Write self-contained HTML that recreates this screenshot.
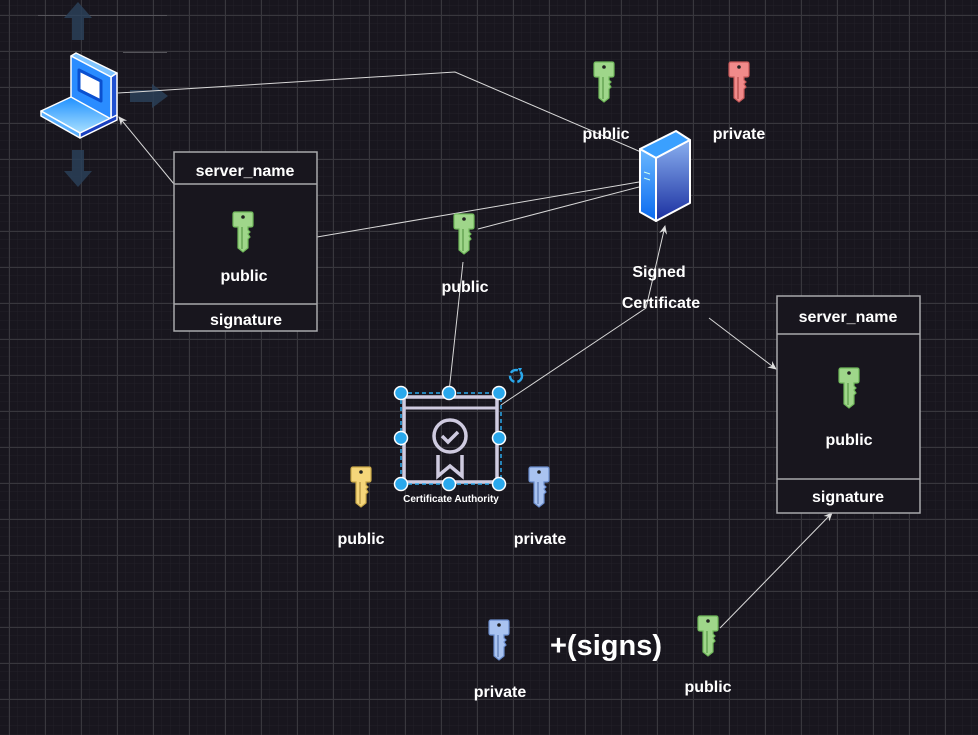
<!DOCTYPE html>
<html><head><meta charset="utf-8"><style>
html,body{margin:0;padding:0;background:#18161e;}
svg{display:block}
text{font-family:"Comic Sans MS","Liberation Sans",sans-serif;fill:#fff;font-weight:bold;}
</style></head><body>
<svg width="978" height="735" viewBox="0 0 978 735" xmlns="http://www.w3.org/2000/svg">
<defs>
<pattern id="minor" x="0" y="6" width="9" height="9" patternUnits="userSpaceOnUse">
<path d="M9 0V9M0 9H9" stroke="#222028" stroke-width="1" fill="none"/>
</pattern>
<pattern id="major" x="9" y="15" width="36" height="36" patternUnits="userSpaceOnUse">
<path d="M0.5 0V36M0 0.5H36" stroke="#38373d" stroke-width="1" fill="none"/>
</pattern>
<marker id="ar" markerWidth="10" markerHeight="10" refX="8" refY="5" orient="auto" markerUnits="userSpaceOnUse">
<path d="M0 1 L9 5 L0 9 L3 5Z" fill="#ddd"/>
</marker>
<linearGradient id="lb" x1="0" y1="0" x2="0" y2="1"><stop offset="0" stop-color="#1e90ff"/><stop offset="1" stop-color="#a9e0ff"/></linearGradient>
<linearGradient id="sv" x1="0" y1="0" x2="0" y2="1"><stop offset="0" stop-color="#8ab0f0"/><stop offset="1" stop-color="#1a2fa0"/></linearGradient>
<linearGradient id="sf" x1="0" y1="0" x2="0" y2="1"><stop offset="0" stop-color="#6ab8ff"/><stop offset="1" stop-color="#0a6af0"/></linearGradient>
</defs>
<rect width="978" height="735" fill="#18161e"/>
<rect width="978" height="735" fill="url(#minor)"/>
<rect width="978" height="735" fill="url(#major)"/>
<line x1="38" y1="15.5" x2="167" y2="15.5" stroke="#55545a"/>
<line x1="123" y1="52.5" x2="167" y2="52.5" stroke="#55545a"/>

<g fill="#2a4058" opacity="0.85">
<path d="M78 2 L92 18 L84 18 L84 40 L72 40 L72 18 L64 18Z"/>
<path d="M168 96 L152 84 L152 90 L130 90 L130 102 L152 102 L152 108Z"/>
<path d="M78 187 L92 171 L84 171 L84 150 L72 150 L72 171 L64 171Z"/>
</g>

<g stroke="#d8d8d8" stroke-width="1" fill="none">
<polyline points="118,93 455,72 648,155" marker-end="url(#ar)"/>
<line x1="174" y1="184" x2="119" y2="117" marker-end="url(#ar)"/>
<line x1="317" y1="237" x2="639" y2="182"/>
<line x1="478" y1="229" x2="639" y2="187"/>
<line x1="449" y1="392" x2="463" y2="262"/>
<polyline points="501,405 646,308 665,226" marker-end="url(#ar)"/>
<line x1="709" y1="318" x2="776" y2="369" marker-end="url(#ar)"/>
<line x1="720" y1="628" x2="832" y2="513" marker-end="url(#ar)"/>
</g>

<g fill="#18161e" stroke="#a8a8ac" stroke-width="1.5">
<rect x="174" y="152" width="143" height="179"/>
<line x1="174" y1="184" x2="317" y2="184"/>
<line x1="174" y1="304" x2="317" y2="304"/>
<rect x="777" y="296" width="143" height="217"/>
<line x1="777" y1="334" x2="920" y2="334"/>
<line x1="777" y1="479" x2="920" y2="479"/>
</g>

<g stroke="#fff" stroke-width="1.5" stroke-linejoin="round">
<polygon points="71,56 76,53 117,73 111,77" fill="#7fc4ff"/>
<polygon points="111,77 117,73 117,116 111,119" fill="#2050d0"/>
<polygon points="71,56 111,77 111,119 71,98" fill="#2a8cff"/>
<polygon points="79,70 101,81 101,101 79,90" fill="#fff" stroke="#0a50d0" stroke-width="3"/>
<polygon points="41,111 71,97 111,119 80,133" fill="url(#lb)"/>
<polygon points="41,111 80,133 80,138 41,116" fill="#5ab0ff"/>
<polygon points="80,133 117,115 117,120 80,138" fill="#1a40c0"/>
</g>

<g stroke="#fff" stroke-width="2" stroke-linejoin="round">
<polygon points="640,149 676,131 690,140 656,158" fill="#3aa0ff"/>
<polygon points="640,149 656,158 656,221 640,212" fill="url(#sf)"/>
<polygon points="656,158 690,140 690,203 656,221" fill="url(#sv)"/>
</g>
<path d="M644 172 l6 2 M644 178 l6 2" stroke="#cfe" stroke-width="1"/>

<g stroke-width="1.2">
<g transform="translate(243,212)"><path d="M-8 0 H8 Q10 0 10 2 V13 Q10 15 8 15 H5 V18 L7 20 L5 22 L7 25 L5 27 V36 L0 40 L-5 36 V15 H-8 Q-10 15 -10 13 V2 Q-10 0 -8 0Z" fill="#9fd68a" stroke="#6fb85a"/><circle cx="0" cy="5" r="1.8" fill="#222"/><line x1="-1" y1="15" x2="-1" y2="37" stroke="#5a9a48"/></g>
<g transform="translate(604,62)"><path d="M-8 0 H8 Q10 0 10 2 V13 Q10 15 8 15 H5 V18 L7 20 L5 22 L7 25 L5 27 V36 L0 40 L-5 36 V15 H-8 Q-10 15 -10 13 V2 Q-10 0 -8 0Z" fill="#9fd68a" stroke="#6fb85a"/><circle cx="0" cy="5" r="1.8" fill="#222"/><line x1="-1" y1="15" x2="-1" y2="37" stroke="#5a9a48"/></g>
<g transform="translate(739,62)"><path d="M-8 0 H8 Q10 0 10 2 V13 Q10 15 8 15 H5 V18 L7 20 L5 22 L7 25 L5 27 V36 L0 40 L-5 36 V15 H-8 Q-10 15 -10 13 V2 Q-10 0 -8 0Z" fill="#f08a8a" stroke="#c85a5a"/><circle cx="0" cy="5" r="1.8" fill="#222"/><line x1="-1" y1="15" x2="-1" y2="37" stroke="#b04848"/></g>
<g transform="translate(464,214)"><path d="M-8 0 H8 Q10 0 10 2 V13 Q10 15 8 15 H5 V18 L7 20 L5 22 L7 25 L5 27 V36 L0 40 L-5 36 V15 H-8 Q-10 15 -10 13 V2 Q-10 0 -8 0Z" fill="#9fd68a" stroke="#6fb85a"/><circle cx="0" cy="5" r="1.8" fill="#222"/><line x1="-1" y1="15" x2="-1" y2="37" stroke="#5a9a48"/></g>
<g transform="translate(849,368)"><path d="M-8 0 H8 Q10 0 10 2 V13 Q10 15 8 15 H5 V18 L7 20 L5 22 L7 25 L5 27 V36 L0 40 L-5 36 V15 H-8 Q-10 15 -10 13 V2 Q-10 0 -8 0Z" fill="#9fd68a" stroke="#6fb85a"/><circle cx="0" cy="5" r="1.8" fill="#222"/><line x1="-1" y1="15" x2="-1" y2="37" stroke="#5a9a48"/></g>
<g transform="translate(361,467)"><path d="M-8 0 H8 Q10 0 10 2 V13 Q10 15 8 15 H5 V18 L7 20 L5 22 L7 25 L5 27 V36 L0 40 L-5 36 V15 H-8 Q-10 15 -10 13 V2 Q-10 0 -8 0Z" fill="#f5d67a" stroke="#c9a848"/><circle cx="0" cy="5" r="1.8" fill="#222"/><line x1="-1" y1="15" x2="-1" y2="37" stroke="#b09040"/></g>
<g transform="translate(539,467)"><path d="M-8 0 H8 Q10 0 10 2 V13 Q10 15 8 15 H5 V18 L7 20 L5 22 L7 25 L5 27 V36 L0 40 L-5 36 V15 H-8 Q-10 15 -10 13 V2 Q-10 0 -8 0Z" fill="#a9c3f0" stroke="#6a8ccc"/><circle cx="0" cy="5" r="1.8" fill="#222"/><line x1="-1" y1="15" x2="-1" y2="37" stroke="#5a78b0"/></g>
<g transform="translate(499,620)"><path d="M-8 0 H8 Q10 0 10 2 V13 Q10 15 8 15 H5 V18 L7 20 L5 22 L7 25 L5 27 V36 L0 40 L-5 36 V15 H-8 Q-10 15 -10 13 V2 Q-10 0 -8 0Z" fill="#a9c3f0" stroke="#6a8ccc"/><circle cx="0" cy="5" r="1.8" fill="#222"/><line x1="-1" y1="15" x2="-1" y2="37" stroke="#5a78b0"/></g>
<g transform="translate(708,616)"><path d="M-8 0 H8 Q10 0 10 2 V13 Q10 15 8 15 H5 V18 L7 20 L5 22 L7 25 L5 27 V36 L0 40 L-5 36 V15 H-8 Q-10 15 -10 13 V2 Q-10 0 -8 0Z" fill="#9fd68a" stroke="#6fb85a"/><circle cx="0" cy="5" r="1.8" fill="#222"/><line x1="-1" y1="15" x2="-1" y2="37" stroke="#5a9a48"/></g>
</g>

<g fill="none" stroke="#cfcbe0" stroke-width="4">
<rect x="404" y="397" width="93" height="85" stroke-width="3.5"/>
<line x1="404" y1="408" x2="497" y2="408" stroke-width="3"/>
<circle cx="450" cy="436" r="16" stroke-width="3.5"/>
<path d="M442 436 l6 6 l10 -10" stroke-width="3.5"/>
<path d="M438 455 V476 L450 466 L462 476 V455" stroke-width="3.5"/>
</g>
<rect x="401" y="393" width="100" height="91" fill="none" stroke="#2aa8ec" stroke-width="1.5" stroke-dasharray="4 3"/>
<g fill="#2aa8ec" stroke="#fff" stroke-width="1.5">
<circle cx="401" cy="393" r="6.5"/><circle cx="449" cy="393" r="6.5"/><circle cx="499" cy="393" r="6.5"/>
<circle cx="401" cy="438" r="6.5"/><circle cx="499" cy="438" r="6.5"/>
<circle cx="401" cy="484" r="6.5"/><circle cx="449" cy="484" r="6.5"/><circle cx="499" cy="484" r="6.5"/>
</g>
<circle cx="516" cy="376" r="6" fill="none" stroke="#2aa8ec" stroke-width="2.5" stroke-dasharray="8 3"/>
<path d="M518 368 l4 0 l-2 4z" fill="#2aa8ec"/>

<g font-size="16" text-anchor="middle">
<text x="245" y="176">server_name</text>
<text x="244" y="281">public</text>
<text x="246" y="325">signature</text>
<text x="606" y="139">public</text>
<text x="739" y="139">private</text>
<text x="465" y="292">public</text>
<text x="659" y="277">Signed</text>
<text x="661" y="308">Certificate</text>
<text x="848" y="322">server_name</text>
<text x="849" y="445">public</text>
<text x="848" y="502">signature</text>
<text x="361" y="544">public</text>
<text x="540" y="544">private</text>
<text x="500" y="697">private</text>
<text x="708" y="692">public</text>
<text x="606" y="655" font-size="29" font-weight="normal">+(signs)</text>
<text x="451" y="502" font-size="10" font-weight="normal">Certificate Authority</text>
</g>
</svg>
</body></html>
